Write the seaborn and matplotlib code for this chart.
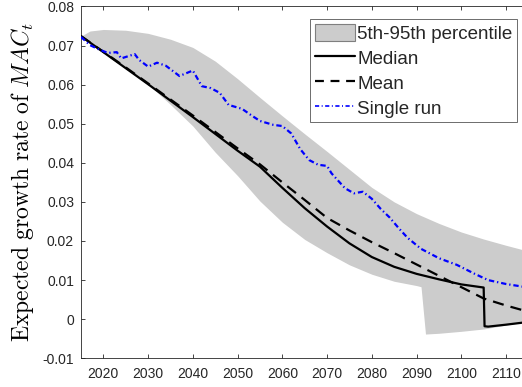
import matplotlib
matplotlib.use("Agg")
import matplotlib.pyplot as plt
from matplotlib.patches import Patch
from matplotlib.lines import Line2D
import seaborn as sns
import numpy as np
import pandas as pd

# ---------------- data ----------------
band_years = [2015, 2017, 2020, 2025, 2030, 2035, 2040, 2045, 2050, 2055, 2060, 2065,
              2070, 2075, 2080, 2085, 2090, 2091, 2092, 2095, 2100, 2105, 2110, 2115]
band_upper = [0.0724, 0.0737, 0.0741, 0.0739, 0.0731, 0.0716, 0.0695, 0.0660, 0.0615,
              0.0567, 0.0520, 0.0474, 0.0429, 0.0383, 0.0337, 0.0300, 0.0270, 0.0265,
              0.0260, 0.0245, 0.0223, 0.0205, 0.0189, 0.0174]
band_lower = [0.0724, 0.0707, 0.0684, 0.0644, 0.0601, 0.0549, 0.0494, 0.0427, 0.0367,
              0.0302, 0.0248, 0.0204, 0.0170, 0.0139, 0.0115, 0.0097, 0.0086, 0.0083,
              -0.0038, -0.0036, -0.0031, -0.0025, -0.0015, -0.0006]

median_years = [2015, 2020, 2025, 2030, 2035, 2040, 2045, 2050, 2055, 2060, 2065, 2070,
                2075, 2080, 2085, 2090, 2095, 2100, 2105, 2105.2, 2106, 2110, 2115]
median_vals = [0.0724, 0.0683, 0.0642, 0.0601, 0.0559, 0.0517, 0.0474, 0.0431, 0.0390,
               0.0336, 0.0284, 0.0237, 0.0194, 0.0159, 0.0134, 0.0116, 0.0102, 0.0089,
               0.0081, -0.0018, -0.0019, -0.0014, -0.0007]

mean_years = [2015, 2020, 2025, 2030, 2035, 2040, 2045, 2050, 2055, 2060, 2065, 2070,
              2075, 2080, 2085, 2090, 2095, 2100, 2105, 2110, 2115]
mean_vals = [0.0724, 0.0684, 0.0644, 0.0603, 0.0562, 0.0521, 0.0479, 0.0437, 0.0396,
             0.0350, 0.0305, 0.0259, 0.0227, 0.0197, 0.0169, 0.0140, 0.0111, 0.0082,
             0.0053, 0.0035, 0.0019]

run_years = [2015, 2017, 2019, 2021, 2023, 2024, 2027, 2028, 2030, 2032, 2034, 2037,
             2040, 2042, 2044, 2046, 2048, 2051, 2053, 2055, 2058, 2060, 2062, 2064,
             2066, 2068, 2070, 2071, 2074, 2076, 2078, 2080, 2082, 2084, 2086, 2088,
             2091, 2095, 2099, 2103, 2106, 2110, 2115]
run_vals = [0.0722, 0.0701, 0.0690, 0.0681, 0.0683, 0.0667, 0.0678, 0.0663, 0.0646,
            0.0656, 0.0648, 0.0622, 0.0636, 0.0596, 0.0591, 0.0579, 0.0548, 0.0538,
            0.0522, 0.0507, 0.0497, 0.0494, 0.0475, 0.0435, 0.0407, 0.0395, 0.0392,
            0.0373, 0.0335, 0.0322, 0.0326, 0.0308, 0.0282, 0.0260, 0.0233, 0.0208,
            0.0180, 0.0156, 0.0139, 0.0116, 0.0100, 0.0090, 0.0081]

x_ticks = [2020, 2030, 2040, 2050, 2060, 2070, 2080, 2090, 2100, 2110]
y_ticks = [-0.01, 0, 0.01, 0.02, 0.03, 0.04, 0.05, 0.06, 0.07, 0.08]
y_tick_labels = ["-0.01", "0", "0.01", "0.02", "0.03", "0.04", "0.05", "0.06", "0.07", "0.08"]
legend_labels = ["5th-95th percentile", "Median", "Mean", "Single run"]
y_label = r"$\mathrm{Expected\ growth\ rate\ of\ }MAC_t$"

# ---------------- style ----------------
sns.set_theme(style="ticks")
plt.rcParams["font.family"] = ["Liberation Sans", "DejaVu Sans"]
plt.rcParams["mathtext.fontset"] = "cm"
axis_col = "#262626"

fig = plt.figure(figsize=(5.22, 3.87), dpi=100)
W, H = 522.0, 387.0
ax = fig.add_axes([81 / W, 1 - 358.3 / H, 447.4 / W, (358.3 - 6.4) / H])

band_col = "#cccccc"
ax.fill_between(band_years, band_lower, band_upper, color=band_col, linewidth=0, zorder=1)

df_med = pd.DataFrame({"year": median_years, "value": median_vals})
df_mean = pd.DataFrame({"year": mean_years, "value": mean_vals})
df_run = pd.DataFrame({"year": run_years, "value": run_vals})

LW = 1.6
mean_dash = (0, (5.0, 3.2))
run_dash = (0, (2.4, 1.3, 0.6, 1.3))
sns.lineplot(data=df_med, x="year", y="value", ax=ax, color="black", linewidth=LW,
             sort=False, estimator=None, zorder=3)
sns.lineplot(data=df_mean, x="year", y="value", ax=ax, color="black", linewidth=LW,
             linestyle=mean_dash, sort=False, estimator=None, zorder=3)
sns.lineplot(data=df_run, x="year", y="value", ax=ax, color="#0000ff", linewidth=LW,
             linestyle=run_dash, sort=False, estimator=None, zorder=4)

ax.set_xlim(2015, 2115)
ax.set_ylim(-0.01, 0.08)
ax.set_xticks(x_ticks)
ax.set_xticklabels([str(t) for t in x_ticks])
ax.set_yticks(y_ticks)
ax.set_yticklabels(y_tick_labels)
ax.set_xlabel("")
ax.set_ylabel(y_label, fontsize=17, color="black")
ax.yaxis.set_label_coords(-0.100, 0.5)

ax.tick_params(axis="both", direction="in", length=3, width=0.6, colors=axis_col,
               labelsize=10, top=True, right=True)
ax.tick_params(axis="x", pad=6)
ax.tick_params(axis="y", pad=5)
for s in ax.spines.values():
    s.set_color(axis_col)
    s.set_linewidth(0.6)

handles = [
    Patch(facecolor=band_col, edgecolor="#7f7f7f", linewidth=0.8),
    Line2D([], [], color="black", linewidth=LW),
    Line2D([], [], color="black", linewidth=LW, linestyle=(0, (4.0, 3.0))),
    Line2D([], [], color="#0000ff", linewidth=1.2, linestyle=(0, (2.5, 1.5, 0.6, 1.5))),
]
leg = ax.legend(handles, legend_labels, loc="upper right",
                bbox_to_anchor=(517.3 / W, 1 - 19.3 / H), bbox_transform=fig.transFigure,
                borderaxespad=0, frameon=True, fancybox=False, framealpha=1,
                edgecolor="#555555", fontsize=13.5, handlelength=2.15,
                handleheight=1.0, handletextpad=0.12, labelspacing=0.33, borderpad=0.25)
leg.get_frame().set_linewidth(0.6)

fig.savefig("out.png", dpi=100)
